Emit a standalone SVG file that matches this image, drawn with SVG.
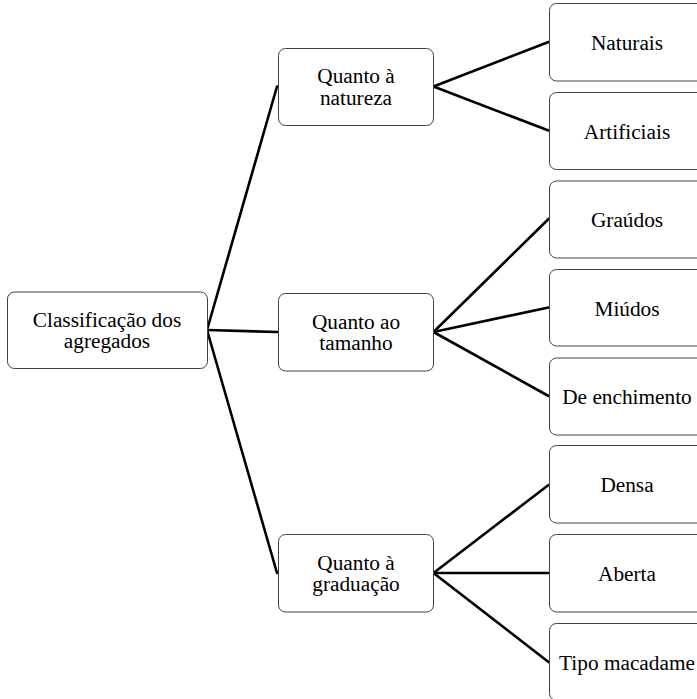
<svg xmlns="http://www.w3.org/2000/svg" width="697" height="699" viewBox="0 0 697 699">
<style>
.box{fill:#fff;stroke:#404040;stroke-width:1}
.lbl{font-family:"Liberation Serif","Times New Roman",serif;font-size:21.3px;fill:#000;text-anchor:middle}
.con{stroke:#000;stroke-width:2.6;fill:none;stroke-linecap:round}
</style>
<rect width="697" height="699" fill="#fff"/>
<g id="connectors">
<line class="con" x1="207" y1="330" x2="277" y2="86.5"/>
<line class="con" x1="207" y1="330" x2="277" y2="332"/>
<line class="con" x1="207" y1="330" x2="277" y2="573"/>
<line class="con" x1="433.5" y1="86.5" x2="548.5" y2="42"/>
<line class="con" x1="433.5" y1="86.5" x2="548.5" y2="130.5"/>
<line class="con" x1="433.5" y1="332" x2="548.5" y2="219"/>
<line class="con" x1="433.5" y1="332" x2="548.5" y2="307.5"/>
<line class="con" x1="433.5" y1="332" x2="548.5" y2="396"/>
<line class="con" x1="433.5" y1="573" x2="548.5" y2="485"/>
<line class="con" x1="433.5" y1="573" x2="548.5" y2="573"/>
<line class="con" x1="433.5" y1="573" x2="548.5" y2="662"/>
</g>
<g id="root">
<rect class="box" x="7.5" y="292" width="200" height="76.5" rx="7"/>
<text class="lbl" x="107" y="326.5">Classificação dos<tspan x="107" dy="21.5">agregados</tspan></text>
</g>
<g id="natureza">
<rect class="box" x="278.5" y="48.5" width="155" height="77" rx="7"/>
<text class="lbl" x="356" y="83">Quanto à<tspan x="356" dy="21.5">natureza</tspan></text>
</g>
<g id="tamanho">
<rect class="box" x="278.5" y="293.5" width="155" height="77.5" rx="7"/>
<text class="lbl" x="356" y="328.5">Quanto ao<tspan x="356" dy="21.5">tamanho</tspan></text>
</g>
<g id="graduacao">
<rect class="box" x="278.5" y="534.5" width="155" height="77.5" rx="7"/>
<text class="lbl" x="356" y="569.5">Quanto à<tspan x="356" dy="21.5">graduação</tspan></text>
</g>
<g id="naturais">
<rect class="box" x="549.5" y="3.5" width="155" height="77.5" rx="7"/>
<text class="lbl" x="627" y="50">Naturais</text>
</g>
<g id="artificiais">
<rect class="box" x="549.5" y="92.5" width="155" height="77" rx="7"/>
<text class="lbl" x="627" y="138.5">Artificiais</text>
</g>
<g id="graudos">
<rect class="box" x="549.5" y="181" width="155" height="77" rx="7"/>
<text class="lbl" x="627" y="227">Graúdos</text>
</g>
<g id="miudos">
<rect class="box" x="549.5" y="269.5" width="155" height="76.5" rx="7"/>
<text class="lbl" x="627" y="315.5">Miúdos</text>
</g>
<g id="enchimento">
<rect class="box" x="549.5" y="358" width="155" height="77" rx="7"/>
<text class="lbl" x="627" y="404">De enchimento</text>
</g>
<g id="densa">
<rect class="box" x="549.5" y="445.5" width="155" height="77.5" rx="7"/>
<text class="lbl" x="627" y="492">Densa</text>
</g>
<g id="aberta">
<rect class="box" x="549.5" y="534.5" width="155" height="77.5" rx="7"/>
<text class="lbl" x="627" y="580.5">Aberta</text>
</g>
<g id="macadame">
<rect class="box" x="549.5" y="623.5" width="155" height="77" rx="7"/>
<text class="lbl" x="627" y="669.5">Tipo macadame</text>
</g>
</svg>
